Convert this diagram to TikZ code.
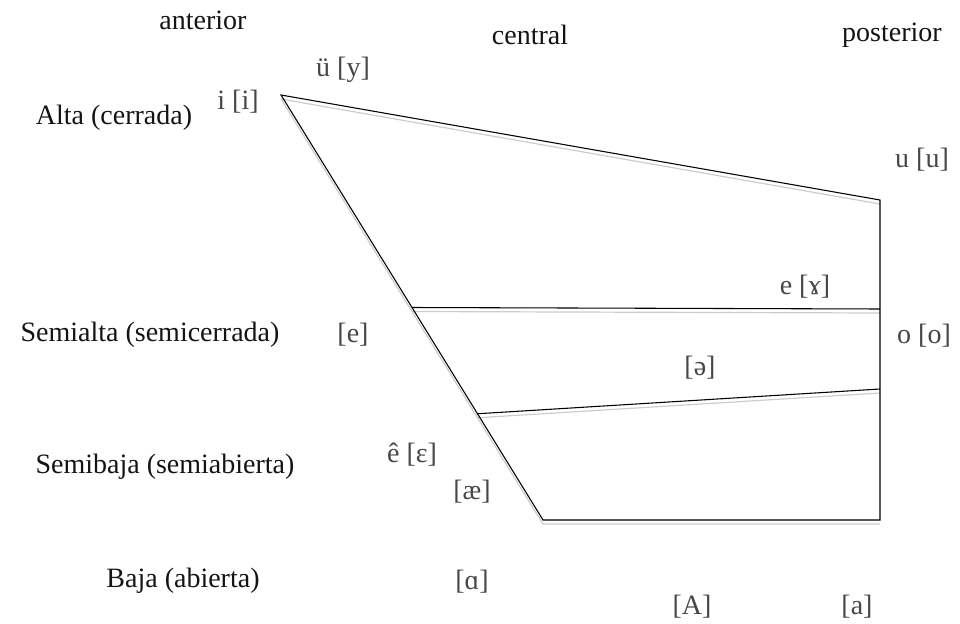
\documentclass[tikz,border=0pt]{standalone}
\usepackage{fontspec}
\setmainfont{Liberation Serif}
\usepackage{tikz}
\usetikzlibrary{calc}

\begin{document}
\begin{tikzpicture}[x=0.75pt, y=-0.75pt, font=\fontsize{21}{25}\selectfont,
    edge/.style={black, line width=0.8pt},
    shade/.style={black!20, line width=0.9pt, transform canvas={yshift=-3pt}},
    lab/.style={inner sep=0pt, text=black!92},
    vow/.style={inner sep=0pt, text=black!72}]
    \useasboundingbox (0,0) rectangle (960,624);
    % esquinas del trapecio
    \coordinate (hi) at (281,95);
    \coordinate (hb) at (880,200);
    \coordinate (lf) at (543,520);
    \coordinate (lb) at (880,520);
    \coordinate (mf1) at ($(hi)!0.5!(lf)$);
    \coordinate (mb1) at (880,309);
    \coordinate (mf2) at ($(hi)!0.75!(lf)$);
    \coordinate (mb2) at (880,389);
    % sombra gris
    \draw[shade] (hi) -- (hb);
    \draw[shade] (hi) -- (lf) -- (lb);
    \draw[shade] (mf1) -- (mb1);
    \draw[shade] (mf2) -- (mb2);
    % lineas
    \draw[edge] (hi) -- (hb) -- (lb) -- (lf) -- cycle;
    \draw[edge] (mf1) -- (mb1);
    \draw[edge] (mf2) -- (mb2);
    % columnas y filas
    \node[lab] (ant) at (203,20) {anterior};
    \node[lab] (cen) at (530,35) {central};
    \node[lab] (pos) at (892,35) {posterior};
    \node[lab] (alta) at (114,118) {Alta (cerrada)};
    \node[lab] (smalta) at (150,335) {Semialta (semicerrada)};
    \node[lab] (smbaja) at (165,467) {Semibaja (semiabierta)};
    \node[lab] (baja) at (183,581) {Baja (abierta)};
    % vocales
    \node[vow] (y) at (343,70) {ü [y]};
    \node[vow] (i) at (238,102) {i [i]};
    \node[vow] (u) at (922,160) {u [u]};
    \node[vow] (gam) at (805,287) {e [ɤ]};
    \node[vow] (e) at (353,335) {[e]};
    \node[vow] (o) at (924,336) {o [o]};
    \node[vow] (sch) at (700,368) {[ə]};
    \node[vow] (eps) at (412,455) {ê [ɛ]};
    \node[vow] (ae) at (472,492) {[æ]};
    \node[vow] (alf) at (472,582) {[ɑ]};
    \node[vow] (A) at (692,607) {[A]};
    \node[vow] (a) at (857,607) {[a]};
\end{tikzpicture}
\end{document}
